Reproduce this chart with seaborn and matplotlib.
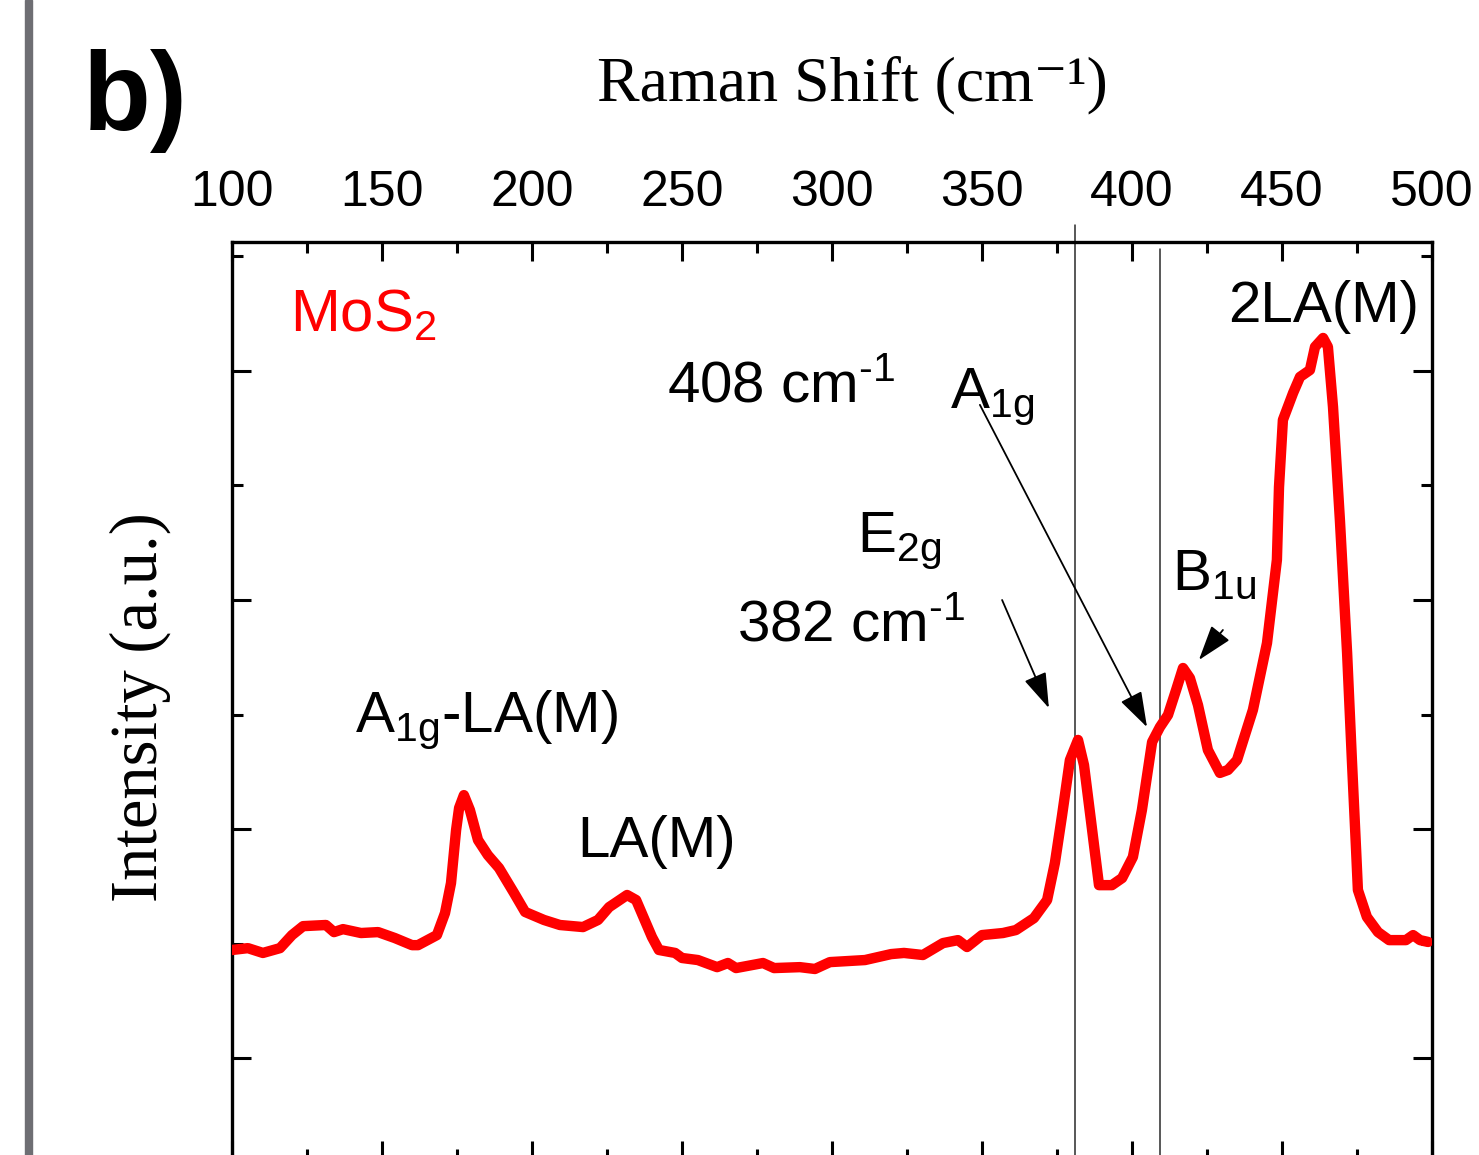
import numpy as np
import pandas as pd
import matplotlib
matplotlib.use("Agg")
import matplotlib.pyplot as plt
from matplotlib.patches import Rectangle
from matplotlib.ticker import MultipleLocator
import seaborn as sns

# Raman spectrum of MoS2
raman_shift = [100.0, 105.3, 110.3, 116.0, 120.0, 123.7, 131.3, 134.0, 137.0, 143.0,
               148.7, 154.3, 160.0, 162.0, 168.3, 171.0, 173.0, 174.7, 175.7, 177.3,
               179.3, 182.0, 185.3, 189.0, 194.0, 197.7, 204.0, 209.3, 217.0, 222.0,
               225.7, 231.7, 234.7, 240.0, 242.3, 247.7, 250.0, 255.3, 261.7, 265.3,
               268.0, 277.0, 280.7, 289.3, 294.3, 299.3, 311.0, 319.7, 324.0, 330.3,
               337.0, 342.0, 345.0, 350.0, 357.0, 361.3, 367.3, 371.7, 374.3, 376.7,
               379.3, 382.0, 384.0, 386.3, 389.0, 393.3, 396.7, 400.3, 403.3, 406.7,
               409.3, 412.0, 414.7, 417.0, 419.3, 422.0, 425.3, 429.3, 432.0, 435.0,
               440.3, 445.0, 448.3, 449.0, 450.3, 453.7, 456.0, 459.3, 461.0, 463.7,
               465.3, 467.0, 469.3, 471.7, 473.3, 474.7, 475.3, 478.3, 482.0, 485.7,
               491.3, 493.7, 496.0, 498.7]
intensity = [0.472, 0.480, 0.459, 0.480, 0.537, 0.576, 0.581, 0.550, 0.563, 0.546,
             0.550, 0.524, 0.493, 0.493, 0.537, 0.633, 0.764, 0.996, 1.092, 1.148,
             1.083, 0.952, 0.886, 0.830, 0.721, 0.638, 0.603, 0.581, 0.572, 0.603,
             0.659, 0.712, 0.690, 0.528, 0.472, 0.459, 0.437, 0.428, 0.397, 0.415,
             0.393, 0.415, 0.393, 0.397, 0.389, 0.419, 0.428, 0.454, 0.459, 0.450,
             0.502, 0.515, 0.485, 0.537, 0.546, 0.559, 0.611, 0.690, 0.852, 1.061,
             1.301, 1.389, 1.279, 1.039, 0.755, 0.755, 0.786, 0.878, 1.083, 1.380,
             1.445, 1.498, 1.607, 1.703, 1.659, 1.541, 1.345, 1.245, 1.258, 1.301,
             1.520, 1.812, 2.175, 2.493, 2.786, 2.904, 2.974, 3.004, 3.105, 3.144,
             3.105, 2.843, 2.349, 1.769, 1.301, 0.908, 0.734, 0.616, 0.550, 0.515,
             0.515, 0.537, 0.515, 0.507]

# reference lines (cm-1)
ref_lines = [381.0, 409.3]
ref_line_top = [3.638, 3.533]

# peak labels: text, x, y (data coords, baseline)
HY = "\u2010"
label_text = ["2LA(M)", "408 cm$^{" + HY + "1}$", "A$_{1g}$", "E$_{2g}$",
              "382 cm$^{" + HY + "1}$", "B$_{1u}$", "A$_{1g}$-LA(M)", "LA(M)"]
label_x = [432.0, 245.0, 339.3, 308.3, 268.3, 413.3, 141.0, 215.0]
label_y = [3.214, 2.865, 2.838, 2.210, 1.825, 2.044, 1.424, 0.878]

# arrows: tail -> head
arrow_tail = [(349.3, 2.852), (356.7, 2.000), (430.3, 1.869)]
arrow_head = [(405.0, 1.445), (372.3, 1.528), (422.3, 1.738)]

df = pd.DataFrame({"shift": raman_shift, "intensity": intensity})

sns.set_theme(style="white")
plt.rcParams["font.family"] = ["Liberation Sans", "DejaVu Sans"]
plt.rcParams["mathtext.default"] = "regular"
plt.rcParams["text.color"] = "black"
plt.rcParams["xtick.color"] = "black"
plt.rcParams["ytick.color"] = "black"
plt.rcParams["xtick.labelcolor"] = "black"

fig = plt.figure(figsize=(14.79, 11.55), dpi=100)
ax = fig.add_axes([232 / 1479, 1 - 1160 / 1155, 1200 / 1479, 918 / 1155])

sns.lineplot(data=df, x="shift", y="intensity", ax=ax, color="#ff0000",
             lw=7.5, sort=False, estimator=None, zorder=3,
             solid_joinstyle="round", solid_capstyle="round")

for xv, yt in zip(ref_lines, ref_line_top):
    ax.plot([xv, xv], [yt, -0.5], color="#2a2a2a", lw=1.1, clip_on=False, zorder=2)

ax.set_xlim(100, 500)
ax.set_ylim(-0.445, 3.563)

ax.xaxis.set_major_locator(MultipleLocator(50))
ax.xaxis.set_minor_locator(MultipleLocator(25))
ax.yaxis.set_major_locator(MultipleLocator(1))
ax.yaxis.set_minor_locator(MultipleLocator(0.5))
ax.tick_params(which="both", direction="in", top=True, bottom=True, left=True, right=True,
               labeltop=True, labelbottom=False, labelleft=False, width=2.2,
               color="black", labelcolor="black")
ax.tick_params(which="major", length=14, pad=19, labelsize=36)
ax.tick_params(which="minor", length=8)
for s in ax.spines.values():
    s.set_linewidth(2.4)
    s.set_color("black")
ax.set_xlabel("")
ax.set_ylabel("")

ax.text(119.3, 3.170, "MoS$_2$", color="#ff0000", fontsize=43, va="baseline")
for t, x, y in zip(label_text, label_x, label_y):
    ax.text(x, y, t, fontsize=42, va="baseline", color="black", zorder=4)

for tail, head in zip(arrow_tail, arrow_head):
    ax.annotate("", xy=head, xytext=tail,
                arrowprops=dict(arrowstyle="-|>,head_length=1.0,head_width=0.33",
                                color="black", lw=1.3, mutation_scale=22,
                                shrinkA=0, shrinkB=0))

serif = ["Liberation Serif", "DejaVu Serif"]
fig.text(852 / 1479, 1 - 100 / 1155, "Raman Shift (cm\u207b\u00b9)", family=serif,
         fontsize=46, ha="center", va="baseline", color="black")
fig.text(140 / 1479, 1 - 707 / 1155, "Intensity (a.u.)", family=serif,
         fontsize=48, rotation=90, ha="center", va="center", color="black")
fig.text(83 / 1479, 1 - 130 / 1155, "b)", fontsize=80, fontweight="bold",
         ha="left", va="baseline", color="black")

fig.patches.append(Rectangle((25 / 1479, 0), 7 / 1479, 1, transform=fig.transFigure,
                             color="#6e6e73", zorder=0))

fig.savefig("out.png", dpi=100)
